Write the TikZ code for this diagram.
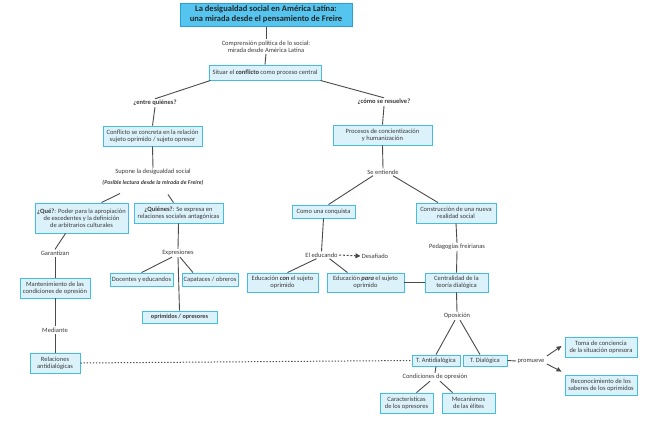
\documentclass[tikz,border=0pt]{standalone}
\usepackage{fontspec}
\setmainfont{Carlito}
\usetikzlibrary{positioning,calc,arrows.meta}
\definecolor{boxfill}{HTML}{DCF2FB}
\definecolor{boxline}{HTML}{45BCE6}
\definecolor{titlefill}{HTML}{55C5EF}
\definecolor{titleline}{HTML}{2B9ED6}
\definecolor{linecol}{HTML}{4A4A4A}
\definecolor{textcol}{HTML}{3A3A3A}
\begin{document}
\begin{tikzpicture}[x=1pt,y=-1pt,
  bluebox/.style={draw=boxline,fill=boxfill,line width=0.9pt,align=center,inner sep=0.5pt,font=\fontsize{6.5}{7.2}\selectfont,text=textcol},
  titlebox/.style={draw=titleline,fill=titlefill,line width=1pt,align=center,inner sep=0.5pt,font=\fontsize{8.5}{9.8}\selectfont\bfseries,text=black!85},
  lbl/.style={align=center,inner sep=1.2pt,font=\fontsize{6.5}{7.2}\selectfont,text=textcol},
  conn/.style={draw=linecol,line width=0.9pt}]
\useasboundingbox (0,0) rectangle (650,421);
\node[titlebox,minimum width=172,minimum height=23] (title) at (266,14.5) {La desigualdad social en América Latina:\\una mirada desde el pensamiento de Freire};
\node[lbl] (compr) at (266,46.5) {Comprensión política de lo social:\\mirada desde América Latina};
\node[bluebox,minimum width=112,minimum height=15] (situar) at (265,72.5) {Situar el \textbf{conflicto} como proceso central};
\node[lbl,font=\fontsize{6.5}{7.2}\selectfont\bfseries] (entre) at (155,103) {¿entre quiénes?};
\node[lbl,font=\fontsize{6.5}{7.2}\selectfont\bfseries] (como) at (384,102) {¿cómo se resuelve?};
\node[bluebox,minimum width=99,minimum height=20] (conflicto) at (152.5,136) {Conflicto se concreta en la relación\\sujeto oprimido / sujeto opresor};
\node[bluebox,minimum width=99,minimum height=20] (procesos) at (382.5,135) {Procesos de concientización\\y humanización};
\node[lbl] (supone) at (153,172) {Supone la desigualdad social};
\node[lbl,font=\fontsize{5.8}{6.5}\selectfont\bfseries\itshape] (posible) at (153,182.5) {(Posible lectura desde la mirada de Freire)};
\node[lbl] (entiende) at (383,172) {Se entiende};
\node[bluebox,minimum width=93,minimum height=30] (que) at (81.5,218) {\textbf{¿Qué?}: Poder para la apropiación\\de excedentes y la definición\\de arbitrarios culturales};
\node[bluebox,minimum width=89,minimum height=20] (quienes) at (178.5,213) {\textbf{¿Quiénes?}: Se expresa en\\relaciones sociales antagónicas};
\node[bluebox,minimum width=63,minimum height=13] (conquista) at (323.5,211.5) {Como una conquista};
\node[bluebox,minimum width=80,minimum height=20] (construccion) at (456,213) {Construcción de una nueva\\realidad social};
\node[lbl] (garantizan) at (55,253) {Garantizan};
\node[lbl] (expresiones) at (178,253) {Expresiones};
\node[lbl] (pedagogias) at (457,247) {Pedagogías freirianas};
\node[lbl] (educando) at (321.5,255) {El educando};
\node[lbl] (desafiado) at (375,256) {Desafiado};
\node[bluebox,minimum width=70,minimum height=20] (manten) at (55,288) {Mantenimiento de las\\condiciones de opresión};
\node[bluebox,minimum width=63,minimum height=13] (docentes) at (141.5,279.5) {Docentes y educandos};
\node[bluebox,minimum width=56,minimum height=13] (capataces) at (210,279.5) {Capataces / obreros};
\node[bluebox,minimum width=71,minimum height=19] (edcon) at (282.5,282.5) {Educación \textbf{\textit{con}} el sujeto\\oprimido};
\node[bluebox,minimum width=77,minimum height=19] (edpara) at (365.5,282.5) {Educación \textbf{\textit{para}} el sujeto\\oprimido};
\node[bluebox,minimum width=63,minimum height=19] (centralidad) at (456.5,282.5) {Centralidad de la\\teoría dialógica};
\node[bluebox,minimum width=75,minimum height=12,font=\fontsize{6.2}{7}\selectfont\bfseries] (oprimidos) at (179.5,317) {oprimidos / opresores};
\node[lbl] (mediante) at (55,330) {Mediante};
\node[lbl] (oposicion) at (457,316) {Oposición};
\node[bluebox,minimum width=50,minimum height=20] (relaciones) at (55,363) {Relaciones\\antidialógicas};
\node[bluebox,minimum width=48,minimum height=11] (antidial) at (436,360.5) {T. Antidialógica};
\node[bluebox,minimum width=44,minimum height=11] (dial) at (485,360.5) {T. Dialógica};
\node[lbl] (promueve) at (531,361) {promueve};
\node[bluebox,minimum width=72,minimum height=20] (toma) at (601,347) {Toma de conciencia\\de la situación opresora};
\node[bluebox,minimum width=72,minimum height=20] (reconoc) at (601,385) {Reconocimiento de los\\saberes de los oprimidos};
\node[lbl] (condiciones) at (435,377) {Condiciones de opresión};
\node[bluebox,minimum width=53,minimum height=20] (caract) at (406.5,403) {Características\\de los opresores};
\node[bluebox,minimum width=53,minimum height=20] (mecanismos) at (468.5,403) {Mecanismos\\de las élites};
\draw[conn] (title.south) -- (compr.north);
\draw[conn] (compr.south) -- (situar.north);
\draw[conn] ($(situar.south west)+(2,0)$) -- (entre.north);
\draw[conn] ($(situar.south east)+(-1,0)$) -- (como.north);
\draw[conn] (entre.south) -- (conflicto.north);
\draw[conn] (como.south) -- (procesos.north);
\draw[conn] (conflicto.south) -- (supone.north);
\draw[conn] (procesos.south) -- (entiende.north);
\draw[conn] ($(posible.south)+(-33,7)$) -- ($(que.north)+(20,0)$);
\draw[conn] ($(posible.south)+(15,8)$) -- ($(quienes.north)+(-5,0)$);
\draw[conn] ($(entiende.south)+(-10,0)$) -- ($(conquista.north)+(5,0)$);
\draw[conn] ($(entiende.south)+(10,0)$) -- ($(construccion.north)+(-18,0)$);
\draw[conn] ($(que.south)+(-16,0)$) -- (garantizan.north);
\draw[conn] (garantizan.south) -- (manten.north);
\draw[conn] (manten.south) -- (mediante.north);
\draw[conn] (mediante.south) -- (relaciones.north);
\draw[conn] (quienes.south) -- (expresiones.north);
\draw[conn] ($(expresiones.south)+(-6,0)$) -- (docentes.north);
\draw[conn] ($(expresiones.south)+(2,0)$) -- ($(capataces.north)+(-17,0)$);
\draw[conn] (expresiones.south) -- (oprimidos.north);
\draw[conn] (conquista.south) -- (educando.north);
\draw[conn] ($(educando.south)+(-5,0)$) -- ($(edcon.north)+(5,0)$);
\draw[conn] ($(educando.south)+(8,0)$) -- ($(edpara.north)+(-18,0)$);
\draw[conn,line width=1pt,dash pattern=on 2pt off 1.8pt,-{Triangle[length=5pt,width=5pt]}] (educando.east) -- (desafiado.west);
\draw[conn] (edpara.east) -- (centralidad.west);
\draw[conn] (construccion.south) -- (pedagogias.north);
\draw[conn] (pedagogias.south) -- (centralidad.north);
\draw[conn] (centralidad.south) -- (oposicion.north);
\draw[conn] ($(oposicion.south)+(-2,0)$) -- (antidial.north);
\draw[conn] ($(oposicion.south)+(3,0)$) -- ($(dial.north)+(-5,0)$);
\draw[conn] (dial.east) -- (promueve.west);
\draw[conn,-{Triangle[length=5pt,width=4.5pt]}] ($(promueve.east)+(1,-5)$) -- ($(toma.west)+(-3,-1)$);
\draw[conn,-{Triangle[length=5pt,width=4.5pt]}] ($(promueve.east)+(1,3)$) -- ($(reconoc.north west)+(-3,-3)$);
\draw[conn] (antidial.south) -- (condiciones.north);
\draw[conn] ($(condiciones.south)+(-5,0)$) -- ($(caract.north)+(10,0)$);
\draw[conn] ($(condiciones.south)+(5,0)$) -- ($(mecanismos.north)+(-16,0)$);
\draw[conn,line width=1pt,dash pattern=on 1.3pt off 1.8pt] (relaciones.east) -- (antidial.west);
\end{tikzpicture}
\end{document}
